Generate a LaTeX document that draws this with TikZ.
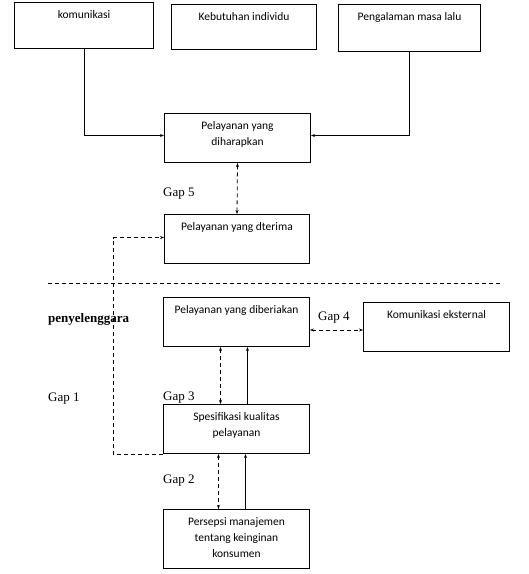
\documentclass[tikz,border=0pt]{standalone}
\usepackage{fontspec}
\setmainfont{Liberation Serif}
\newfontfamily\boxfont{Carlito}
\usetikzlibrary{arrows.meta}
\usetikzlibrary{positioning}

\tikzset{
    box/.style = {draw, line width = 1pt, anchor = north west, inner sep = 0pt},
    boxtext/.style = {inner sep = 0pt, align = center,
        font = \boxfont\fontsize{11.5}{16}\selectfont},
    gaplabel/.style = {anchor = west, inner sep = 0pt, font = \fontsize{13}{15}\selectfont},
    link/.style = {line width = 0.8pt, -{Stealth[length = 4pt, width = 3pt]}},
    gaplink/.style = {line width = 0.8pt, dash pattern = on 4pt off 3pt,
        {Stealth[length = 4pt, width = 3pt]}-{Stealth[length = 4pt, width = 3pt]}}
}

\begin{document}
\begin{tikzpicture}[x = 1pt, y = -1pt, black]

    \useasboundingbox (0,0) rectangle (529,574);

    % upper part
    \node[box, minimum width = 139, minimum height = 46] (kom) at (14,2) {};
    \node[box, minimum width = 145, minimum height = 45] (keb) at (171,4) {};
    \node[box, minimum width = 142, minimum height = 47] (pen) at (338,4) {};
    \node[box, minimum width = 146, minimum height = 49] (dh) at (164,113) {};
    \node[box, minimum width = 145, minimum height = 49] (dt) at (164,214) {};

    \node[boxtext, below = 8pt of kom.north] (kom-t) {komunikasi};
    \node[boxtext, below = 8pt of keb.north] (keb-t) {Kebutuhan individu};
    \node[boxtext, below = 8pt of pen.north] (pen-t) {Pengalaman masa lalu};
    \node[boxtext, below = 8pt of dh.north] (dh-t) {Pelayanan yang\\diharapkan};
    \node[boxtext, below = 8pt of dt.north] (dt-t) {Pelayanan yang dterima};

    % border line
    \coordinate (L) at (48,283);
    \coordinate (R) at (503,283);
    \draw[line width = 0.8pt, dash pattern = on 4pt off 3pt] (L) -- (R);

    % lower part
    \node[box, minimum width = 146, minimum height = 49] (db) at (163,297) {};
    \node[box, minimum width = 146, minimum height = 49] (ke) at (363,302) {};
    \node[box, minimum width = 146, minimum height = 49] (sk) at (163,404) {};
    \node[box, minimum width = 146, minimum height = 59] (pm) at (163,509) {};

    \node[boxtext, below = 8pt of db.north] (db-t) {Pelayanan yang diberiakan};
    \node[boxtext, below = 8pt of ke.north] (ke-t) {Komunikasi eksternal};
    \node[boxtext, below = 8pt of sk.north] (sk-t) {Spesifikasi kualitas\\pelayanan};
    \node[boxtext, below = 8pt of pm.north] (pm-t) {Persepsi manajemen\\tentang keinginan\\konsumen};

    % labels
    \node[gaplabel] (g5) at (163,194) {Gap 5};
    \node[gaplabel] (g4) at (318,318) {Gap 4};
    \node[gaplabel] (g3) at (163,398) {Gap 3};
    \node[gaplabel] (g1) at (48,399) {Gap 1};
    \node[gaplabel] (g2) at (163,481) {Gap 2};
    \node[gaplabel, font = \fontsize{13}{15}\selectfont\bfseries] (pg) at (48,319) {penyelenggara};

    % connectors
    \draw[link] (kom.south) |- ([yshift = 2.5pt]dh.west);
    \draw[link] (pen.south) |- ([yshift = 2.5pt]dh.east);
    \draw[gaplink] (dh.south) -- (dt.north);
    \draw[gaplink] ([yshift = -3pt]ke.west -| db.east) -- ([yshift = -3pt]ke.west);
    \draw[gaplink] ([xshift = -16pt]db.south) -- ([xshift = -16pt]sk.north);
    \draw[link] ([xshift = 11pt]sk.north) -- ([xshift = 11pt]db.south);
    \draw[gaplink] ([xshift = -18pt]sk.south) -- ([xshift = -18pt]pm.north);
    \draw[link] ([xshift = 9pt]pm.north) -- ([xshift = 9pt]sk.south);
    \draw[line width = 0.8pt, dash pattern = on 4pt off 3pt, -{Stealth[length = 4pt, width = 3pt]}]
        (sk.south west) -- ++(-50,0) |- ([yshift = 1.5pt]dt.west);

\end{tikzpicture}
\end{document}
